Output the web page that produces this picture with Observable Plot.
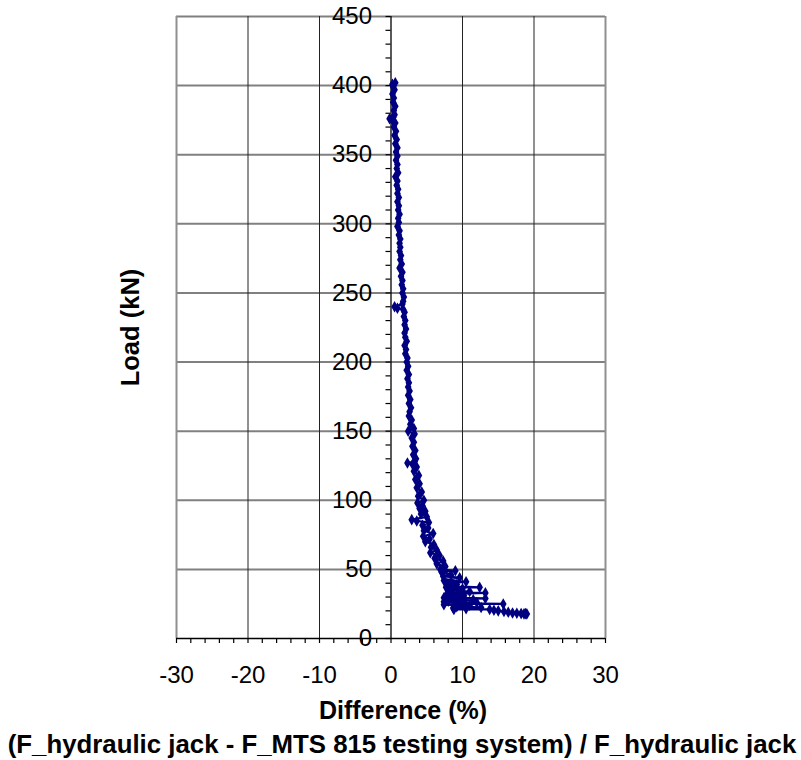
<!DOCTYPE html>
<html>
<head>
<meta charset="utf-8">
<script src="https://cdn.jsdelivr.net/npm/d3@7"></script>
<script src="https://cdn.jsdelivr.net/npm/@observablehq/plot@0.6"></script>
<style>
  html, body { margin: 0; padding: 0; background: #fff; }
  #chart { width: 801px; height: 760px; }
</style>
</head>
<body>
<div id="chart"></div>
<script>
// Load (kN) readings, from the top of the curve downwards
const load = [
  401, 402, 399, 397, 394, 391, 388, 385, 382, 379,
  377, 376, 375, 373, 370, 367, 364, 361, 358, 355,
  352, 349, 346, 343, 340, 337, 334, 331, 328, 325,
  322, 319, 316, 313, 310, 307, 304, 301, 298, 295,
  292, 289, 286, 283, 280, 277, 274, 271, 268, 265,
  262, 259, 256, 253, 250, 247, 244, 242, 240, 239,
  238, 236, 233, 230, 227, 224, 221, 218, 215, 212,
  209, 206, 203, 200, 197, 194, 191, 188, 185, 182,
  179, 176, 173, 170, 167, 164, 161, 158, 155, 152,
  150, 148, 145, 142, 139, 136, 133, 130, 128, 127,
  126, 124, 121, 118, 115, 112, 109, 106, 103, 100,
  98, 96, 94, 92, 90, 88, 86, 85, 84, 82,
  80, 78, 76, 74, 72, 70, 68, 66, 64, 62,
  60, 58, 56, 54, 52, 50, 49, 48, 46, 45,
  44, 42, 41, 40, 39, 38, 37, 37, 36, 35,
  34, 33, 33, 32, 31, 30, 29.5, 29, 28.5, 28,
  27, 26.5, 26, 25.5, 25, 25, 24.5, 24, 23, 22.5,
  22, 21.5, 21, 21, 20.5, 20, 19.5, 19, 18.5, 18.2,
  18, 18, 17.8, 17.8
];
// Difference (%) readings matching the loads above
const diff = [
  0.2, 0.6, 0.3, 0.5, 0.2, 0.4, 0.3, 0.6, 0.4, 0.5,
  0.3, -0.2, 0.2, 0.6, 0.4, 0.7, 0.5, 0.8, 0.6, 0.9,
  0.7, 0.9, 0.7, 0.9, 0.8, 1.0, 0.6, 0.9, 0.8, 1.0,
  0.9, 1.1, 0.9, 1.1, 1.0, 1.2, 1.0, 1.1, 0.9, 1.2,
  1.1, 1.3, 1.2, 1.3, 1.2, 1.4, 1.3, 1.5, 1.2, 1.6,
  1.4, 1.6, 1.5, 1.7, 1.6, 1.8, 1.7, 1.6, 0.5, 0.9,
  1.7, 1.9, 1.8, 2.0, 1.9, 2.1, 1.9, 2.0, 2.2, 1.9,
  2.1, 2.0, 2.3, 2.2, 2.4, 2.2, 2.5, 2.3, 2.5, 2.4,
  2.6, 2.4, 2.7, 2.5, 2.8, 2.6, 2.5, 2.9, 2.7, 3.2,
  2.4, 3.3, 2.9, 3.2, 3.0, 3.4, 3.1, 3.5, 3.3, 2.3,
  3.0, 3.6, 3.2, 3.9, 3.4, 4.0, 3.6, 4.3, 3.8, 4.6,
  3.7, 4.4, 4.0, 4.8, 4.2, 5.0, 2.9, 3.6, 5.3, 4.4,
  5.2, 4.6, 5.9, 4.5, 5.4, 4.8, 6.0, 5.6, 6.4, 5.5,
  6.8, 6.1, 7.3, 6.4, 7.6, 6.9, 9.0, 7.1, 8.4, 7.3,
  9.6, 7.4, 10.5, 7.8, 9.2, 8.2, 12.4, 7.7, 10.0, 8.0,
  11.0, 8.6, 13.2, 7.8, 10.2, 8.4, 7.4, 13.2, 9.0, 11.5,
  8.0, 7.4, 12.0, 9.5, 15.7, 10.4, 7.4, 11.0, 9.2, 12.6,
  8.7, 10.5, 8.8, 13.8, 14.4, 15.0, 15.8, 16.4, 17.0, 17.6,
  18.2, 18.8, 19.0, 18.6
];

const xGrid = [-20, -10, 10, 20];
const xBorder = [-30, 30];
const yGrid = [50, 100, 150, 200, 250, 300, 350, 400, 450];
const yTickLabels = [0, 50, 100, 150, 200, 250, 300, 350, 400, 450];
const yMinorTicks = d3.range(0, 451, 10);
const xTicks = d3.range(-30, 31, 2);
const xTitle = "Difference (%)";
const xSubtitle = "(F_hydraulic jack - F_MTS 815 testing system) / F_hydraulic jack";
const yTitle = "Load (kN)";

const data = load.map((L, i) => ({load: L, diff: diff[i]}));

const font = "'Liberation Sans', Arial, Helvetica, sans-serif";

const chart = Plot.plot({
  width: 801,
  height: 760,
  marginLeft: 176,
  marginRight: 196,
  marginTop: 16,
  marginBottom: 122,
  style: {fontFamily: font, fontSize: "24px", color: "#000", background: "#fff", overflow: "visible"},
  x: {domain: [-30, 30], axis: null},
  y: {domain: [0, 450], axis: null},
  marks: [
    Plot.ruleY(yGrid, {stroke: "#808080", strokeWidth: 2}),
    Plot.ruleX(xBorder, {stroke: "#909090", strokeWidth: 2}),
    Plot.ruleX(xGrid, {stroke: "#222", strokeWidth: 1}),
    Plot.ruleX([0], {stroke: "#000", strokeWidth: 1.3}),
    Plot.ruleY([0], {stroke: "#000", strokeWidth: 1.3}),
    Plot.ruleY(yMinorTicks, {x1: -0.7, x2: 0, stroke: "#000", strokeWidth: 1.2}),
    Plot.axisX({ticks: xTicks, tickSize: 5, tickPadding: 22, tickFormat: d => d % 10 === 0 ? String(d) : "", fontSize: 24, label: null, strokeWidth: 1.2}),
    Plot.text(yTickLabels, {x: 0, y: d => d, text: d => String(d), textAnchor: "end", dx: -19, fontSize: 24, fill: "#000"}),
    Plot.line(data, {x: "diff", y: "load", stroke: "#000080", strokeWidth: 2.2}),
    Plot.dot(data, {x: "diff", y: "load", symbol: "diamond", r: 3.5, fill: "#000080", stroke: "none"}),
    Plot.text([yTitle], {frameAnchor: "left", dx: -46, rotate: -90, text: d => d, fontSize: 25.5, fontWeight: "bold", textAnchor: "middle", lineAnchor: "middle"}),
    Plot.text([xTitle], {frameAnchor: "bottom", dx: 12, dy: 72, text: d => d, fontSize: 25, fontWeight: "bold", textAnchor: "middle", lineAnchor: "middle"}),
    Plot.text([xSubtitle], {frameAnchor: "bottom", dx: 11, dy: 106, text: d => d, fontSize: 25.8, fontWeight: "bold", textAnchor: "middle", lineAnchor: "middle"})
  ]
});
document.getElementById("chart").appendChild(chart);
</script>
</body>
</html>
